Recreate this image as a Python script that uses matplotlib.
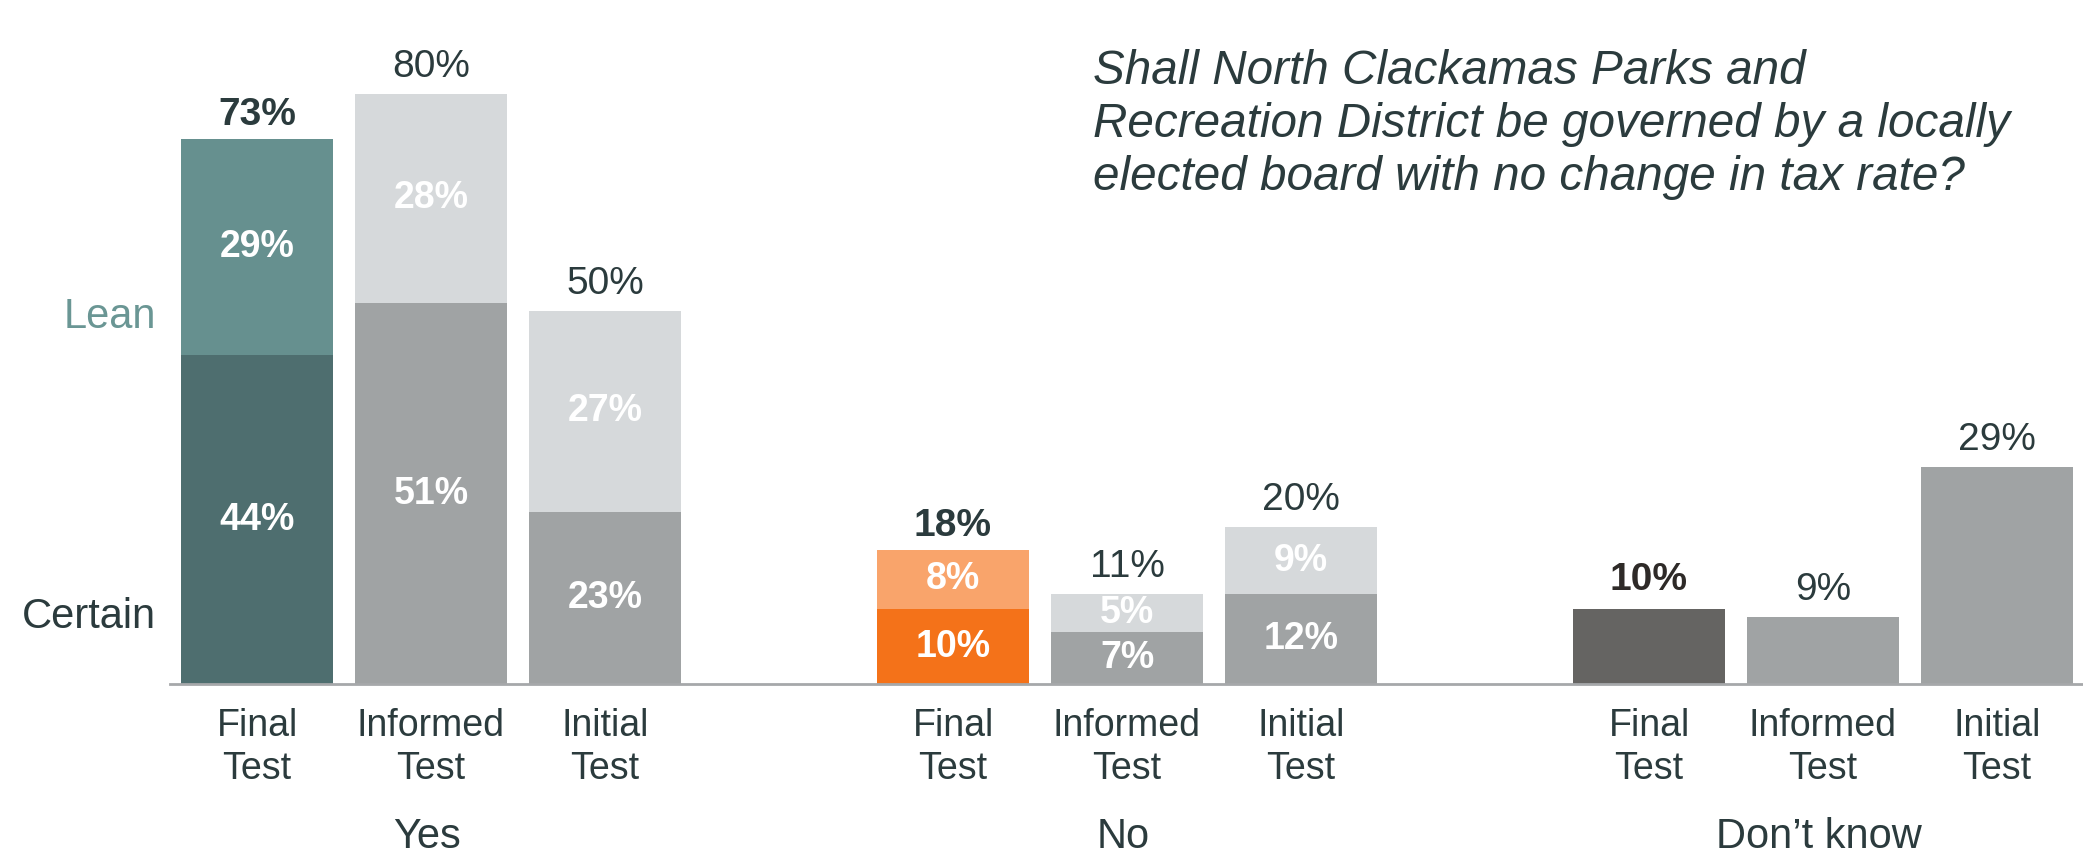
import numpy as np
import matplotlib.pyplot as plt

# survey data ---------------------------------------------------------
groups = ["Yes", "No", "Don\u2019t know"]
waves = ["Final\nTest", "Informed\nTest", "Initial\nTest"]

yes_certain = [44, 51, 23]
yes_lean = [29, 28, 27]
yes_total = [73, 80, 50]

no_certain = [10, 7, 12]
no_lean = [8, 5, 9]
no_total = [18, 11, 20]

dk_total = [10, 9, 29]

title_lines = ["Shall North Clackamas Parks and",
               "Recreation District be governed by a locally",
               "elected board with no change in tax rate?"]

# colours
DARK = "#2b3b3d"
GRAY = "#a0a3a4"
LIGHT = "#d6d9db"
c_certain = ["#4e6e6f", GRAY, GRAY, "#f47219", GRAY, GRAY]
c_lean = ["#66908f", LIGHT, LIGHT, "#f9a46b", LIGHT, LIGHT]
c_dk = ["#656462", GRAY, GRAY]

plt.rcParams['font.family'] = ['Liberation Sans', 'DejaVu Sans']

fig = plt.figure(figsize=(20.83, 8.57), dpi=100)
ax = fig.add_axes([170 / 2083, 173 / 857, 1914 / 2083, 684 / 857])

# bar slots: three per group, one empty slot between groups
x_yes = np.arange(3)
x_no = np.arange(3) + 4
x_dk = np.arange(3) + 8
w = 0.87

certain = yes_certain + no_certain
lean = yes_lean + no_lean
totals = yes_total + no_total
xs = np.concatenate([x_yes, x_no])

ax.bar(xs, certain, width=w, color=c_certain, linewidth=0)
ax.bar(xs, lean, bottom=certain, width=w, color=c_lean, linewidth=0)
ax.bar(x_dk, dk_total, width=w, color=c_dk, linewidth=0)

# segment labels
for x, c, l in zip(xs, certain, lean):
    ax.text(x, c / 2, f"{c}%", ha='center', va='center', color='white',
            fontsize=27, fontweight='bold')
    ax.text(x, c + l / 2, f"{l}%", ha='center', va='center', color='white',
            fontsize=27, fontweight='bold')

# totals on top (final test in bold)
for i, (x, t) in enumerate(zip(xs, totals)):
    top = certain[i] + lean[i]
    bold = (i % 3 == 0)
    ax.annotate(f"{t}%", (x, top), xytext=(0, 14 if bold else 17),
                textcoords='offset pixels', ha='center', va='baseline',
                fontsize=28, color=DARK,
                fontweight='bold' if bold else 'normal')
for i, (x, t) in enumerate(zip(x_dk, dk_total)):
    ax.annotate(f"{t}%", (x, t), xytext=(0, 19 if i == 0 else 17),
                textcoords='offset pixels', ha='center', va='baseline',
                fontsize=28, color="#2e2a28" if i == 0 else DARK,
                fontweight='bold' if i == 0 else 'normal')

# axes cosmetics
ax.set_xlim(-0.5, 10.5)
ax.set_ylim(0, 684 / 7.47)
for s in ['top', 'right', 'left']:
    ax.spines[s].set_visible(False)
ax.spines['bottom'].set_color('#a6a8aa')
ax.spines['bottom'].set_linewidth(2)
ax.set_yticks([])
ax.set_xticks(np.concatenate([x_yes, x_no, x_dk]))
ax.set_xticklabels(waves * 3, fontsize=27, color=DARK, linespacing=1.25)
ax.tick_params(axis='x', length=0, pad=17)

# group labels under the wave labels
for gx, g in zip([x_yes[1], x_no[1], x_dk[1]], groups):
    ax.annotate(g, (gx, 0), xytext=(-4, -164), textcoords='offset pixels',
                ha='center', va='baseline', fontsize=30, color=DARK)

# side legend
fig.text(156 / 2083, 1 - 328 / 857, "Lean", ha='right', va='baseline',
         fontsize=30, color="#6a9694")
fig.text(156 / 2083, 1 - 628 / 857, "Certain", ha='right', va='baseline',
         fontsize=30, color=DARK)

# question text
for k, line in enumerate(title_lines):
    fig.text(1093 / 2083, 1 - (84 + 53 * k) / 857, line, ha='left',
             va='baseline', fontsize=34.3, style='italic', color=DARK)

fig.savefig("out.png", dpi=100)
